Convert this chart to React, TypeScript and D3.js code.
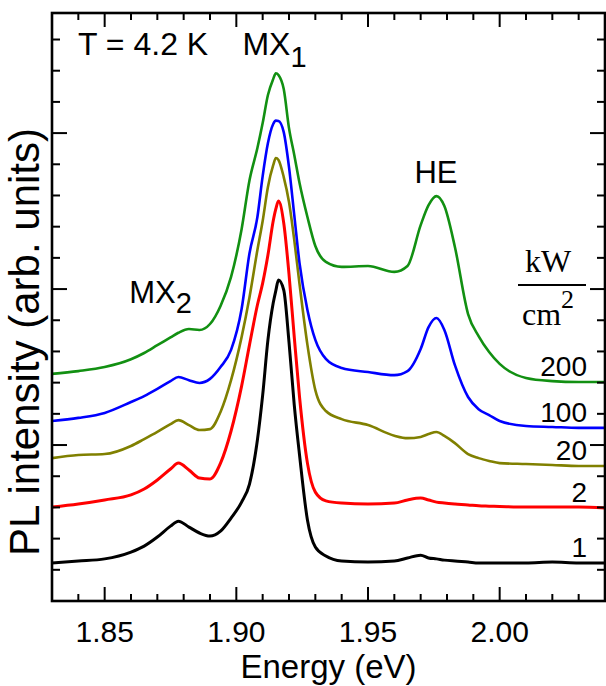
import { useMemo } from 'react'
import * as d3 from 'd3'

// photon energy grid (eV) shared by all spectra
const energy = [
  1.83, 1.84, 1.85, 1.86, 1.865, 1.87, 1.875, 1.878, 1.882, 1.886, 1.89, 1.894, 1.898, 1.902, 1.905,
  1.908, 1.91, 1.912, 1.914, 1.915, 1.916, 1.918, 1.92, 1.922, 1.924, 1.927, 1.93, 1.934, 1.94, 1.95,
  1.96, 1.965, 1.97, 1.973, 1.976, 1.979, 1.983, 1.988, 1.992, 1.996, 2.0, 2.01, 2.02, 2.03, 2.04,
]

// PL intensity (arb. units, curves already offset vertically)
const pl1 = [
  1.22, 1.28, 1.35, 1.57, 1.76, 2.05, 2.4, 2.56, 2.37, 2.18, 2.08, 2.24, 2.66, 3.17, 3.75,
  5.16, 6.6, 8.37, 9.55, 9.95, 10.29, 9.97, 8.3, 6.28, 4.68, 2.6, 1.73, 1.44, 1.28, 1.25,
  1.28, 1.38, 1.47, 1.38, 1.35, 1.31, 1.28, 1.25, 1.22, 1.22, 1.22, 1.22, 1.25, 1.22, 1.22,
]
const pl2 = [
  3.01, 3.11, 3.24, 3.4, 3.59, 3.88, 4.23, 4.42, 4.2, 3.94, 3.91, 4.42, 5.45, 6.89, 8.21,
  9.49, 10.19, 11.09, 12.18, 12.57, 12.82, 12.12, 10.48, 8.46, 6.54, 4.42, 3.49, 3.21, 3.14, 3.11,
  3.14, 3.24, 3.3, 3.24, 3.17, 3.14, 3.11, 3.08, 3.05, 3.04, 3.03, 3.01, 3.01, 3.01, 2.98,
]
const pl20 = [
  4.58, 4.68, 4.71, 4.97, 5.19, 5.42, 5.67, 5.8, 5.64, 5.48, 5.51, 6.06, 7.08, 8.46, 9.74,
  11.25, 12.18, 13.27, 13.97, 14.2, 14.14, 13.59, 12.79, 11.57, 10.16, 8.21, 6.76, 6.09, 5.83, 5.64,
  5.3, 5.22, 5.26, 5.35, 5.42, 5.29, 5.06, 4.71, 4.58, 4.49, 4.42, 4.39, 4.36, 4.33, 4.33,
]
const pl100 = [
  5.77, 5.87, 6.03, 6.38, 6.57, 6.8, 7.05, 7.18, 7.08, 6.99, 7.12, 7.5, 8.05, 9.36, 11.15,
  12.31, 13.62, 14.68, 15.29, 15.4, 15.39, 15.03, 13.91, 12.37, 10.83, 9.33, 8.37, 7.76, 7.47, 7.34,
  7.24, 7.37, 8.08, 8.78, 9.07, 8.69, 7.56, 6.54, 6.15, 5.96, 5.77, 5.61, 5.58, 5.55, 5.55,
]
const pl200 = [
  7.28, 7.37, 7.5, 7.75, 7.95, 8.2, 8.45, 8.6, 8.72, 8.69, 8.88, 9.46, 10.39, 11.92, 13.49,
  14.52, 15.32, 16.22, 16.73, 16.92, 16.86, 16.41, 15.16, 14.3, 13.4, 12.31, 11.38, 10.87, 10.71, 10.74,
  10.55, 10.74, 12.05, 12.69, 12.98, 12.66, 11.35, 9.2, 8.49, 7.98, 7.6, 7.15, 7.05, 7.02, 7.02,
]

const powers = ['1', '2', '20', '100', '200']
const seriesValues = [pl1, pl2, pl20, pl100, pl200]
const seriesColors = ['#000000', '#ff0000', '#808000', '#0000ff', '#129012']
const seriesWidths = [3, 3, 2.6, 2.6, 2.6]
const xTickLabels = [1.85, 1.9, 1.95, 2.0]

const W = 606
const H = 686
const M = { top: 13, right: 1, bottom: 85, left: 52 }
const SANS = '"Liberation Sans", Arial, sans-serif'
const SERIF = '"Liberation Serif", "Times New Roman", serif'

export default function App() {
  const x = useMemo(() => d3.scaleLinear().domain([1.83, 2.04]).range([M.left, W - M.right]), [])
  const y = useMemo(() => d3.scaleLinear().domain([0, 18.85]).range([H - M.bottom, M.top]), [])

  const line = d3
    .line<[number, number]>()
    .x((d) => x(d[0]))
    .y((d) => y(d[1]))
    .curve(d3.curveMonotoneX)

  const x0 = x.range()[0]
  const x1 = x.range()[1]
  const y0 = y.range()[0]
  const y1 = y.range()[1]

  const xMinor = d3.range(183, 205).map((v) => v / 100)
  const yMinor = d3.range(1, 19)

  return (
    <svg width={W} height={H} style={{ position: 'absolute', left: 0, top: 0 }} fontFamily={SANS}>
      {/* spectra */}
      <g fill="none" strokeLinejoin="round">
        {seriesValues.map((vals, i) => (
          <path
            key={powers[i]}
            d={line(energy.map((e, k) => [e, vals[k]]) as [number, number][]) ?? ''}
            stroke={seriesColors[i]}
            strokeWidth={seriesWidths[i]}
          />
        ))}
      </g>

      {/* ticks, inward on all four sides */}
      <g stroke="#000" strokeWidth={2}>
        {xMinor.map((v) => {
          const major = Math.abs(v * 100 - Math.round(v * 20) * 5) < 0.01
          const len = major ? 14 : 7
          return (
            <g key={`x${v}`}>
              <line x1={x(v)} x2={x(v)} y1={y0} y2={y0 - len} />
              <line x1={x(v)} x2={x(v)} y1={y1} y2={y1 + len} />
            </g>
          )
        })}
        {yMinor.map((v) => {
          const len = v % 5 === 0 ? 15 : 8
          return (
            <g key={`y${v}`}>
              <line x1={x0} x2={x0 + len} y1={y(v)} y2={y(v)} />
              <line x1={x1} x2={x1 - len} y1={y(v)} y2={y(v)} />
            </g>
          )
        })}
      </g>
      <rect x={x0} y={y1} width={x1 - x0} height={y0 - y1} fill="none" stroke="#000" strokeWidth={2.6} />

      {/* x tick labels */}
      {xTickLabels.map((v) => (
        <text key={v} x={x(v)} y={642} textAnchor="middle" fontSize={30}>
          {v.toFixed(2)}
        </text>
      ))}
      <text x={(x0 + x1) / 2} y={678} textAnchor="middle" fontSize={33}>
        Energy (eV)
      </text>
      <text transform={`translate(39,342) rotate(-90)`} textAnchor="middle" fontSize={42}>
        PL intensity (arb. units)
      </text>

      {/* annotations */}
      <text x={78} y={55} fontSize={32}>
        T = 4.2 K
      </text>
      <text x={x(1.9023)} y={55} fontSize={32}>
        MX<tspan dy={12} fontSize={29}>1</tspan>
      </text>
      <text x={x(1.8593)} y={303} fontSize={31}>
        MX<tspan dy={10} fontSize={29}>2</tspan>
      </text>
      <text x={x(1.9758)} y={183} textAnchor="middle" fontSize={31}>
        HE
      </text>

      {/* power density labels */}
      {seriesValues.map((vals, i) => (
        <text key={`p${i}`} x={587} y={y(vals[vals.length - 1]) - 6} textAnchor="end" fontSize={28}>
          {powers[i]}
        </text>
      ))}
      <g fontFamily={SERIF} fontSize={32}>
        <text x={548} y={272} textAnchor="middle">
          kW
        </text>
        <line x1={518} x2={586} y1={285} y2={285} stroke="#000" strokeWidth={2} />
        <text x={522} y={325}>
          cm<tspan dy={-17} fontSize={26}>2</tspan>
        </text>
      </g>
    </svg>
  )
}
